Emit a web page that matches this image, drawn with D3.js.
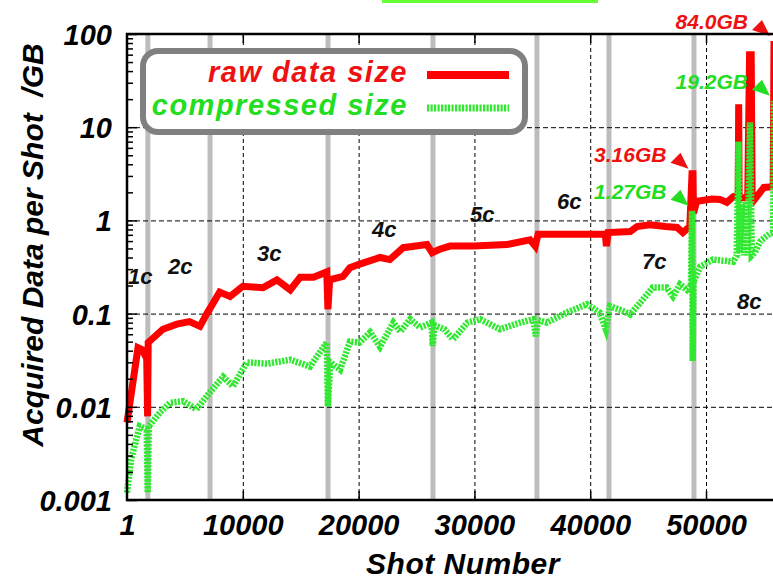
<!DOCTYPE html>
<html><head><meta charset="utf-8">
<script src="https://cdn.jsdelivr.net/npm/d3@7/dist/d3.min.js"></script>
<style>
html,body{margin:0;padding:0;background:#fff;}
svg{display:block;}
text{font-family:"Liberation Sans",Arial,Helvetica,sans-serif;font-weight:bold;font-style:italic;}
</style></head>
<body>
<svg id="chart" width="773" height="581"></svg>
<script>
// ---------------- data ----------------
const rawShots = [1,950,1300,1700,1780,1830,3100,4300,5400,6300,6900,8000,8900,10000,11750,12950,14100,14950,16100,17250,17350,17500,18650,19250,20100,21850,22700,23850,25900,26350,27000,27900,29900,32800,34800,35250,35500,40000,41300,41400,41550,43450,44050,45150,46500,47500,48000,48600,48790,48870,48920,49200,50500,51200,51800,52350,52780,52820,52860,53600,53760,53900,53980,54200,55000,55800,55870];
const rawGB    = [0.0068,0.043,0.041,0.033,0.0079,0.049,0.068,0.077,0.082,0.073,0.10,0.17,0.153,0.196,0.19,0.23,0.18,0.245,0.245,0.28,0.111,0.23,0.25,0.31,0.34,0.40,0.38,0.51,0.55,0.45,0.49,0.53,0.53,0.55,0.62,0.53,0.71,0.71,0.71,0.53,0.74,0.76,0.86,0.9,0.86,0.84,0.74,0.86,3.16,3.16,1.2,1.6,1.7,1.68,1.56,1.8,1.85,17.6,1.75,1.75,60,60,2.0,1.68,2.26,2.3,84.0];

const compShots = [1,350,1100,1700,1790,1880,2850,3700,4850,6000,7150,8300,9150,10350,12100,14100,15800,17250,17350,17550,18400,19250,20100,21000,21850,23000,23600,24450,25300,26300,26400,26550,27400,28150,29400,30500,32200,33950,35100,35300,35500,36250,38000,39700,40800,41350,41700,42570,43450,44300,45400,46600,47150,47750,48350,48700,48790,48850,48920,49500,50600,52350,52650,52800,52880,53100,53250,53450,53600,53800,53950,54200,54700,55500,55800,55870];
const compGB    = [0.0012,0.0027,0.0062,0.0058,0.0012,0.0062,0.0087,0.011,0.0115,0.0094,0.0143,0.021,0.0166,0.030,0.029,0.032,0.027,0.049,0.0101,0.030,0.025,0.05,0.049,0.063,0.044,0.080,0.064,0.087,0.071,0.08,0.045,0.075,0.068,0.053,0.08,0.087,0.068,0.08,0.087,0.057,0.085,0.08,0.103,0.126,0.103,0.068,0.12,0.11,0.098,0.13,0.19,0.19,0.153,0.206,0.18,0.2,1.27,0.031,0.22,0.32,0.38,0.36,0.42,7.0,0.45,1.5,0.42,1.6,0.42,11.3,0.42,0.45,0.6,0.72,0.74,19.2];

const campaignBoundaries = [1800, 7170, 17360, 26420, 35400, 41620, 48960];
const campaignNames  = ["1c","2c","3c","4c","5c","6c","7c","8c"];
const campaignShots  = [86, 3540, 11230, 21160, 29620, 37130, 44470, 52680];
const campaignGB     = [0.206, 0.264, 0.363, 0.657, 0.952, 1.31, 0.298, 0.111];

const calloutLabels = ["84.0GB","19.2GB","3.16GB","1.27GB"];
const calloutShots  = [55870, 55870, 48830, 48830];
const calloutGB     = [84.0, 19.2, 3.16, 1.27];
const calloutSeries = ["raw","comp","raw","comp"];

const xTicks = [1, 10000, 20000, 30000, 40000, 50000];
const xTickLabels = ["1","10000","20000","30000","40000","50000"];
const yTicks = [0.001, 0.01, 0.1, 1, 10, 100];
const yTickLabels = ["0.001","0.01","0.1","1","10","100"];
const seriesNames = ["raw data size","compressed size"];

// ---------------- drawing ----------------
const RED = "#ff0000", RED_T = "#ee1111", GREEN = "#2fe82f", GREEN_T = "#22dd22";
const svg = d3.select("#chart");
const L = 127, T = 34, B = 500, R = 775.5;
const x = d3.scaleLinear().domain([0, 56000]).range([L, R]);
const y = d3.scaleLog().domain([0.001, 100]).range([B, T]);

// top green band
svg.append("rect").attr("x",382).attr("y",0).attr("width",216).attr("height",3).attr("fill","#66ff33");

// campaign boundary bars
svg.append("g").selectAll("line").data(campaignBoundaries).join("line")
  .attr("x1", d=>x(d)).attr("x2", d=>x(d)).attr("y1", T).attr("y2", B)
  .attr("stroke","#bdbdbd").attr("stroke-width",5);

// grid
const gx = svg.append("g").attr("transform",`translate(0,${B})`)
  .call(d3.axisBottom(x).tickValues(xTicks.slice(1)).tickSize(-(B-T)).tickFormat(""));
gx.select(".domain").remove();
gx.selectAll("line").attr("stroke","#000").attr("stroke-width",1).attr("stroke-dasharray","4,3");
const gy = svg.append("g").attr("transform",`translate(${L},0)`)
  .call(d3.axisLeft(y).tickValues(yTicks.slice(1,-1)).tickSize(-(R-L)).tickFormat(""));
gy.select(".domain").remove();
gy.selectAll("line").attr("stroke","#000").attr("stroke-width",1).attr("stroke-dasharray","5,3");

// lines
const rawData = rawShots.map((s,i)=>[s, rawGB[i]]);
const compData = compShots.map((s,i)=>[s, compGB[i]]);
const line = d3.line().x(d=>x(d[0])).y(d=>y(d[1]));
svg.append("path").datum(rawData).attr("d", line).attr("fill","none")
  .attr("stroke",RED).attr("stroke-width",7).attr("stroke-linejoin","miter");
svg.append("path").datum(compData).attr("d", line).attr("fill","none")
  .attr("stroke",GREEN).attr("stroke-width",6.5).attr("stroke-dasharray","2.2,1.3").attr("stroke-linejoin","miter");

// campaign labels
svg.append("g").selectAll("text").data(campaignNames).join("text")
  .attr("x",(d,i)=>x(campaignShots[i])).attr("y",(d,i)=>y(campaignGB[i]))
  .attr("font-size",22).attr("fill","#111").text(d=>d);

// callouts
const cg = svg.append("g");
calloutLabels.forEach((lab,i)=>{
  const px = x(calloutShots[i]), py = y(calloutGB[i]);
  const col = calloutSeries[i]==="raw" ? RED_T : GREEN_T;
  cg.append("text").attr("x", px-26).attr("y", py-12).attr("text-anchor","end")
    .attr("font-size",21).attr("fill",col).text(lab);
  const tx = px-4, ty = py-5;
  cg.append("path").attr("d",`M${tx},${ty}L${tx-8},${ty-16}L${tx-18},${ty-6}Z`).attr("fill",col);
});

// legend
svg.append("rect").attr("x",143).attr("y",51).attr("width",382).attr("height",81).attr("rx",15)
  .attr("fill","#fff").attr("stroke","#808080").attr("stroke-width",6);
svg.append("text").attr("x",408).attr("y",82).attr("text-anchor","end").attr("font-size",29)
  .attr("letter-spacing","1.5px").attr("fill",RED_T).text(seriesNames[0]);
svg.append("text").attr("x",408).attr("y",115).attr("text-anchor","end").attr("font-size",29)
  .attr("letter-spacing","1.5px").attr("fill",GREEN_T).text(seriesNames[1]);
svg.append("line").attr("x1",427).attr("x2",509).attr("y1",75).attr("y2",75)
  .attr("stroke",RED).attr("stroke-width",8);
svg.append("line").attr("x1",427).attr("x2",509).attr("y1",108).attr("y2",108)
  .attr("stroke",GREEN).attr("stroke-width",7).attr("stroke-dasharray","2.2,1.3");

// axes ticks (inward)
const minor = [];
for (let e=-3; e<2; e++) for (let m=2; m<10; m++) minor.push(m*Math.pow(10,e));
const ay = svg.append("g").attr("transform",`translate(${L},0)`)
  .call(d3.axisRight(y).tickValues(minor).tickSize(6).tickFormat(""));
ay.select(".domain").remove();
ay.selectAll("line").attr("stroke","#000").attr("stroke-width",1.5);
const ay2 = svg.append("g").attr("transform",`translate(${L},0)`)
  .call(d3.axisRight(y).tickValues(yTicks).tickSize(10).tickFormat(""));
ay2.select(".domain").remove();
ay2.selectAll("line").attr("stroke","#000").attr("stroke-width",1.5);
const at = svg.append("g").attr("transform",`translate(0,${T})`)
  .call(d3.axisBottom(x).tickValues(xTicks.slice(1)).tickSize(9).tickFormat(""));
at.select(".domain").remove();
at.selectAll("line").attr("stroke","#000").attr("stroke-width",1.5);
const ab = svg.append("g").attr("transform",`translate(0,${B})`)
  .call(d3.axisTop(x).tickValues(xTicks.slice(1)).tickSize(9).tickFormat(""));
ab.select(".domain").remove();
ab.selectAll("line").attr("stroke","#000").attr("stroke-width",1.5);

// frame
svg.append("rect").attr("x",L).attr("y",T).attr("width",R-L).attr("height",B-T)
  .attr("fill","none").attr("stroke","#000").attr("stroke-width",2.5);

// tick labels
const xl = svg.append("g").attr("transform",`translate(0,${B})`)
  .call(d3.axisBottom(x).tickValues(xTicks).tickSize(0).tickPadding(0).tickFormat((d,i)=>xTickLabels[i]));
xl.select(".domain").remove();
xl.selectAll("text").attr("y",35).attr("dy",null).attr("font-size",29).attr("fill","#000")
  .style("font-family",'"Liberation Sans",Arial,sans-serif');
const yl = svg.append("g").attr("transform",`translate(${L},0)`)
  .call(d3.axisLeft(y).tickValues(yTicks).tickSize(0).tickPadding(0).tickFormat((d,i)=>yTickLabels[i]));
yl.select(".domain").remove();
yl.selectAll("text").attr("x",-15).attr("dy","0.36em").attr("font-size",29).attr("fill","#000")
  .style("font-family",'"Liberation Sans",Arial,sans-serif');

// axis titles
svg.append("text").attr("x",463).attr("y",574).attr("text-anchor","middle").attr("font-size",30)
  .attr("letter-spacing","0.5px").attr("fill","#000").text("Shot Number");
svg.append("text").attr("transform","translate(43,245) rotate(-90)").attr("text-anchor","middle")
  .attr("font-size",30).attr("fill","#000").style("white-space","pre").text("Acquired Data per Shot  /GB");
</script>
</body></html>
